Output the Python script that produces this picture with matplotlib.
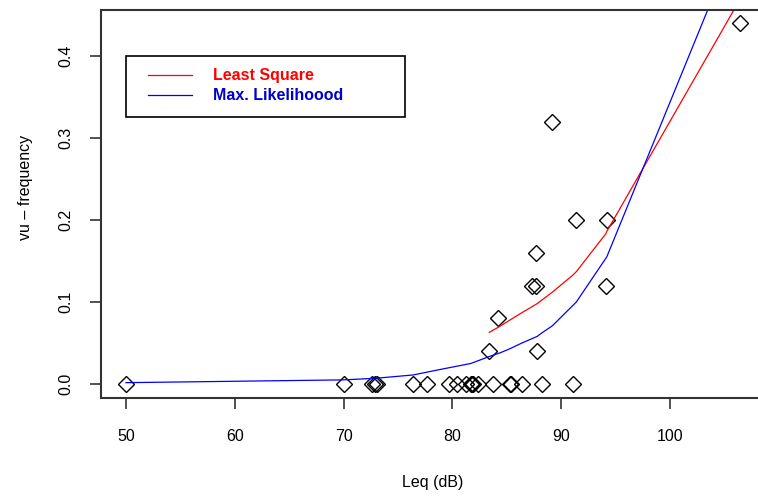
import matplotlib
matplotlib.use("Agg")
import matplotlib.pyplot as plt
from matplotlib.patches import Rectangle

plt.rcParams['font.family'] = ['Liberation Sans', 'DejaVu Sans']

# observed points (Leq in dB, vu-frequency)
leq = [50.0, 70.0, 72.6, 72.9, 73.1, 76.4, 77.7, 79.7, 80.4, 81.3,
       81.7, 81.8, 81.9, 82.4, 83.7, 85.3, 85.4, 86.4, 88.2, 91.1,
       83.4, 84.2, 87.3, 87.7, 87.7, 87.8, 89.2, 91.4, 94.1, 94.2, 106.4]
freq = [0.0, 0.0, 0.0, 0.0, 0.0, 0.0, 0.0, 0.0, 0.0, 0.0,
        0.0, 0.0, 0.0, 0.0, 0.0, 0.0, 0.0, 0.0, 0.0, 0.0,
        0.04, 0.08, 0.12, 0.12, 0.16, 0.04, 0.32, 0.20, 0.12, 0.20, 0.44]

# least square fit
ls_x = [83.4, 84.2, 85.3, 86.4, 87.3, 87.8, 88.2, 89.2, 91.1, 91.4, 94.1, 94.2, 106.4]
ls_y = [0.063, 0.069, 0.078, 0.087, 0.094, 0.098, 0.102, 0.112, 0.133, 0.137, 0.183, 0.186, 0.468]

# maximum likelihood fit
ml_x = [50.0, 70.0, 73.0, 76.4, 79.0, 81.7, 83.5, 84.4, 85.3, 86.4, 87.8, 88.2, 89.2, 91.1, 91.4, 94.2, 106.4]
ml_y = [0.0016, 0.005, 0.007, 0.011, 0.018, 0.025, 0.034, 0.038, 0.043, 0.050, 0.058, 0.062, 0.071, 0.096, 0.100, 0.155, 0.551]

xticks = [50, 60, 70, 80, 90, 100]
yticks = [0.0, 0.1, 0.2, 0.3, 0.4]

legend_labels = ['Least Square', 'Max. Likelihoood']
legend_line_colors = ['red', 'blue']
legend_text_colors = ['red', '#0000cc']

fig = plt.figure(figsize=(7.58, 4.97), dpi=100)
ax = fig.add_axes([0.1332, 0.1992, 0.8668, 0.7806])

ax.plot(leq, freq, linestyle='none', marker='D', markersize=8.5,
        markerfacecolor='none', markeredgecolor='black', markeredgewidth=1.0)
ax.plot(ls_x, ls_y, color='red', lw=0.9)
ax.plot(ml_x, ml_y, color='blue', lw=0.9)

ax.set_xlim(47.7, 108.1)
ax.set_ylim(-0.0171, 0.456)
ax.set_xticks(xticks)
ax.set_yticks(yticks)
ax.set_xticklabels([str(t) for t in xticks])
ax.set_yticklabels(['%.1f' % t for t in yticks], rotation=90, va='center')
ax.tick_params(axis='x', length=8, width=1.2, pad=14, labelsize=11.5, color='#333333')
ax.tick_params(axis='y', length=8, width=1.2, pad=12, labelsize=11.5, color='#333333')

ax.spines['right'].set_visible(False)
for s in ['left', 'bottom', 'top']:
    ax.spines[s].set_linewidth(1.5)
    ax.spines[s].set_color('#333333')

ax.set_xlabel('Leq (dB)', fontsize=11.5, va='center')
ax.xaxis.set_label_coords(0.505, -0.219)
ax.set_ylabel('vu \u2013 frequency', fontsize=11.5, va='center')
ax.yaxis.set_label_coords(-0.115, 0.544)

# R-style legend box, placed in axes fraction
ax.add_patch(Rectangle((0.0376, 0.725), 0.4257, 0.157, transform=ax.transAxes,
                       facecolor='white', edgecolor='black', lw=1.2, zorder=5))
row_y = [0.8325, 0.781]
for lab, lc, tc, yy in zip(legend_labels, legend_line_colors, legend_text_colors, row_y):
    ax.plot([0.0715, 0.1385], [yy, yy], color=lc, lw=0.9, transform=ax.transAxes,
            clip_on=False, zorder=6)
    ax.text(0.1705, yy, lab, color=tc, fontsize=11.5, fontweight='bold',
            va='center', ha='left', transform=ax.transAxes, zorder=6)

fig.savefig('out.png', dpi=100)
